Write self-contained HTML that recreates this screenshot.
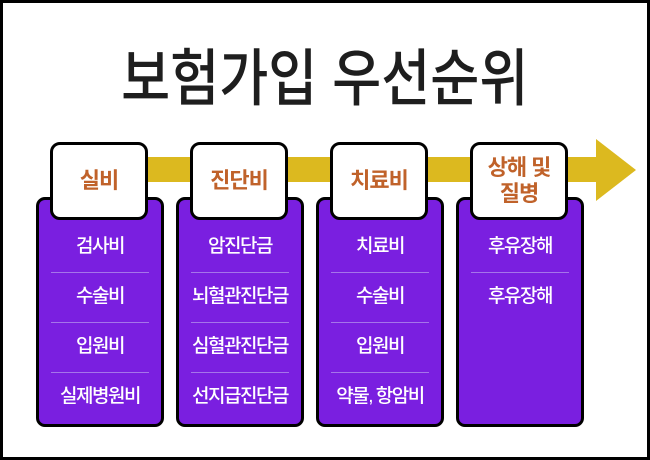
<!DOCTYPE html>
<html><head><meta charset="utf-8"><style>
body{margin:0;width:650px;height:460px;overflow:hidden;background:#fff;font-family:"Liberation Sans","Noto Sans CJK KR",sans-serif;}
.frame{position:absolute;left:0;top:0;width:644px;height:454px;border:3px solid #000;}
.title{position:absolute;left:0;width:650px;top:40px;text-align:center;font-size:62px;line-height:80px;color:#1e1e1e;font-weight:500;}
.title span{display:inline-block;transform:scaleX(0.86);white-space:nowrap;}
.band{position:absolute;left:140px;top:157px;width:460px;height:25px;background:#dcb91f;}
.head{position:absolute;left:596px;top:139px;width:0;height:0;border-top:31px solid transparent;border-bottom:31px solid transparent;border-left:40px solid #dcb91f;}
.col{position:absolute;top:197px;width:122px;height:224px;background:#7a1fe0;border:3px solid #000;border-radius:9px;}
.hd{position:absolute;top:142px;width:92px;height:72px;background:#fff;border:3px solid #000;border-radius:10px;color:#c0622a;font-weight:bold;font-size:22px;display:flex;align-items:center;justify-content:center;text-align:center;line-height:26px;letter-spacing:-1px;}
.it{position:absolute;left:12px;width:98px;height:50px;color:#fff;font-size:19px;letter-spacing:-1.5px;text-align:center;line-height:50px;font-weight:500;white-space:nowrap;}
.it span{display:inline-block;width:98px;margin:0 -20px;width:138px;}
.it.s{border-bottom:1px solid #a574ea;}
</style></head><body>
<div class="frame"></div>
<div class="title"><span>보험가입 우선순위</span></div>
<div class="band"></div><div class="head"></div>

<div class="col" style="left:36px"><div class="it s" style="top:22px"><span>검사비</span></div><div class="it s" style="top:72px"><span>수술비</span></div><div class="it s" style="top:122px"><span>입원비</span></div><div class="it" style="top:172px"><span>실제병원비</span></div></div>
<div class="hd" style="left:50px">실비</div>

<div class="col" style="left:176px"><div class="it s" style="top:22px"><span>암진단금</span></div><div class="it s" style="top:72px"><span>뇌혈관진단금</span></div><div class="it s" style="top:122px"><span>심혈관진단금</span></div><div class="it" style="top:172px"><span>선지급진단금</span></div></div>
<div class="hd" style="left:190px">진단비</div>

<div class="col" style="left:316px"><div class="it s" style="top:22px"><span>치료비</span></div><div class="it s" style="top:72px"><span>수술비</span></div><div class="it s" style="top:122px"><span>입원비</span></div><div class="it" style="top:172px"><span>약물, 항암비</span></div></div>
<div class="hd" style="left:330px">치료비</div>

<div class="col" style="left:456px"><div class="it s" style="top:22px"><span>후유장해</span></div><div class="it" style="top:72px"><span>후유장해</span></div></div>
<div class="hd" style="left:470px">상해 및<br>질병</div>
</body></html>
